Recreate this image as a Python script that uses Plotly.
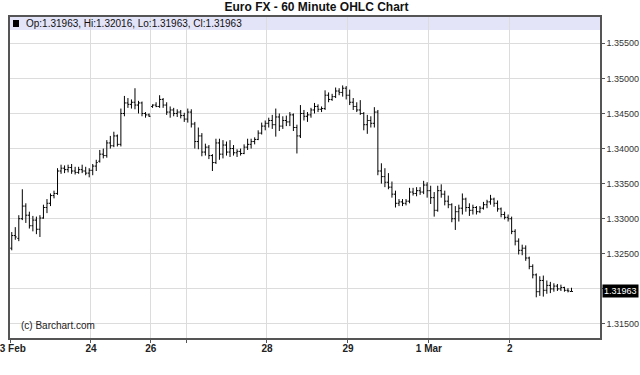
import plotly.graph_objects as go

# ---------------- data ----------------
opens = [
    1.3258, 1.3276, 1.3272, 1.3300, 1.3318, 1.3305, 1.3290, 1.3298, 1.3285, 1.3301,
    1.3316, 1.3322, 1.3333, 1.3336, 1.3368, 1.3372, 1.3370, 1.3373, 1.3368, 1.3366,
    1.3370, 1.3368, 1.3365,
    1.3369, 1.3375, 1.3382, 1.3392, 1.3390, 1.3408, 1.3404, 1.3418, 1.3406, 1.3450,
    1.3465, 1.3463, 1.3466, 1.3462, 1.3465, 1.3450, 1.3448,
    1.3460, 1.3462, 1.3460, 1.3470, 1.3462, 1.3452, 1.3455, 1.3450, 1.3452, 1.3447,
    1.3442, 1.3452, 1.3435, 1.3410, 1.3418, 1.3395, 1.3402, 1.3390, 1.3380, 1.3408,
    1.3392, 1.3405, 1.3395, 1.3400, 1.3394, 1.3396, 1.3393, 1.3402, 1.3406, 1.3410,
    1.3413, 1.3422, 1.3432,
    1.3436, 1.3440, 1.3434, 1.3445, 1.3432, 1.3440, 1.3438, 1.3448, 1.3430, 1.3418,
    1.3450, 1.3446, 1.3448, 1.3455, 1.3460, 1.3456, 1.3457, 1.3476, 1.3470, 1.3474,
    1.3482, 1.3480, 1.3486,
    1.3476, 1.3466, 1.3460, 1.3455, 1.3450, 1.3434, 1.3440, 1.3436, 1.3452, 1.3368,
    1.3360, 1.3352, 1.3345, 1.3335, 1.3322, 1.3324, 1.3322, 1.3325, 1.3338, 1.3336,
    1.3340, 1.3338, 1.3348,
    1.3340, 1.3330, 1.3312, 1.3340, 1.3335, 1.3325, 1.3320, 1.3300, 1.3310, 1.3315,
    1.3328, 1.3316, 1.3312, 1.3316, 1.3310, 1.3315, 1.3320, 1.3324, 1.3328, 1.3322,
    1.3314, 1.3306, 1.3302,
    1.3300, 1.3282, 1.3268, 1.3255, 1.3258, 1.3244, 1.3232, 1.3220, 1.3196, 1.3212,
    1.3198, 1.3205, 1.3200, 1.3204, 1.3200, 1.3202, 1.3198, 1.31963,
]
highs = [
    1.3281, 1.3288, 1.3305, 1.3342, 1.3322, 1.3310, 1.3304, 1.3303, 1.3305, 1.3320,
    1.3328, 1.3336, 1.3340, 1.3372, 1.3377, 1.3376, 1.3377, 1.3378, 1.3374, 1.3374,
    1.3377, 1.3374, 1.3372,
    1.3378, 1.3384, 1.3398, 1.3400, 1.3412, 1.3418, 1.3424, 1.3420, 1.3457, 1.3475,
    1.3472, 1.3470, 1.3486, 1.3468, 1.3467, 1.3452, 1.3450,
    1.3463, 1.3466, 1.3476, 1.3472, 1.3466, 1.3460, 1.3458, 1.3456, 1.3455, 1.3451,
    1.3457, 1.3456, 1.3438, 1.3430, 1.3422, 1.3407, 1.3405, 1.3392, 1.3414, 1.3414,
    1.3412, 1.3410, 1.3412, 1.3405, 1.3399, 1.3400, 1.3406, 1.3414, 1.3414, 1.3416,
    1.3426, 1.3437, 1.3440,
    1.3444, 1.3448, 1.3457, 1.3450, 1.3446, 1.3447, 1.3452, 1.3450, 1.3434, 1.3462,
    1.3455, 1.3452, 1.3458, 1.3465, 1.3463, 1.3460, 1.3483, 1.3480, 1.3478, 1.3487,
    1.3486, 1.3490, 1.3489,
    1.3484, 1.3472, 1.3466, 1.3469, 1.3452, 1.3448, 1.3446, 1.3459, 1.3455, 1.3379,
    1.3372, 1.3365, 1.3353, 1.3340, 1.3328, 1.3328, 1.3328, 1.3344, 1.3344, 1.3345,
    1.3345, 1.3354, 1.3352,
    1.3347, 1.3338, 1.3347, 1.3349, 1.3340, 1.3333, 1.3322, 1.3318, 1.3320, 1.3336,
    1.3330, 1.3322, 1.3320, 1.3318, 1.3318, 1.3324, 1.3327, 1.3334, 1.3330, 1.3326,
    1.3316, 1.3310, 1.3306,
    1.3303, 1.3285, 1.3272, 1.3263, 1.3262, 1.3246, 1.3235, 1.3222, 1.3218, 1.3219,
    1.3212, 1.3210, 1.3208, 1.3207, 1.3206, 1.3203, 1.3201, 1.32016,
]
lows = [
    1.3255, 1.3270, 1.3268, 1.3298, 1.3294, 1.3286, 1.3282, 1.3278, 1.3274, 1.3300,
    1.3308, 1.3318, 1.3329, 1.3334, 1.3364, 1.3365, 1.3366, 1.3364, 1.3363, 1.3364,
    1.3365, 1.3362, 1.3359,
    1.3362, 1.3368, 1.3380, 1.3386, 1.3387, 1.3400, 1.3402, 1.3403, 1.3403, 1.3446,
    1.3458, 1.3457, 1.3456, 1.3450, 1.3446, 1.3444, 1.3445,
    1.3458, 1.3459, 1.3458, 1.3458, 1.3448, 1.3444, 1.3446, 1.3445, 1.3443, 1.3438,
    1.3437, 1.3430, 1.3400, 1.3399, 1.3389, 1.3390, 1.3385, 1.3368, 1.3378, 1.3384,
    1.3386, 1.3390, 1.3388, 1.3390, 1.3388, 1.3390, 1.3392, 1.3398, 1.3400, 1.3406,
    1.3412, 1.3420, 1.3426,
    1.3430, 1.3428, 1.3417, 1.3425, 1.3428, 1.3432, 1.3432, 1.3425, 1.3393, 1.3415,
    1.3440, 1.3438, 1.3444, 1.3450, 1.3452, 1.3452, 1.3455, 1.3466, 1.3468, 1.3472,
    1.3476, 1.3474, 1.3470,
    1.3462, 1.3455, 1.3452, 1.3448, 1.3426, 1.3421, 1.3430, 1.3430, 1.3362, 1.3350,
    1.3345, 1.3342, 1.3330, 1.3316, 1.3318, 1.3318, 1.3319, 1.3322, 1.3333, 1.3332,
    1.3334, 1.3335, 1.3330,
    1.3321, 1.3303, 1.3310, 1.3330, 1.3319, 1.3315, 1.3295, 1.3284, 1.3296, 1.3306,
    1.3310, 1.3304, 1.3306, 1.3306, 1.3308, 1.3313, 1.3315, 1.3320, 1.3317, 1.3310,
    1.3302, 1.3299, 1.3296,
    1.3278, 1.3262, 1.3249, 1.3248, 1.3240, 1.3228, 1.3215, 1.3188, 1.3190, 1.3189,
    1.3193, 1.3194, 1.3196, 1.3197, 1.3197, 1.3196, 1.3195, 1.31963,
]
closes = [
    1.3276, 1.3274, 1.3300, 1.3318, 1.3305, 1.3290, 1.3298, 1.3285, 1.3301, 1.3316,
    1.3322, 1.3333, 1.3336, 1.3368, 1.3372, 1.3370, 1.3373, 1.3368, 1.3366, 1.3370,
    1.3368, 1.3365, 1.3369,
    1.3375, 1.3380, 1.3392, 1.3390, 1.3408, 1.3404, 1.3418, 1.3406, 1.3450, 1.3465,
    1.3463, 1.3466, 1.3462, 1.3465, 1.3450, 1.3448, 1.3446,
    1.3462, 1.3460, 1.3470, 1.3462, 1.3452, 1.3455, 1.3450, 1.3452, 1.3447, 1.3442,
    1.3452, 1.3435, 1.3410, 1.3418, 1.3395, 1.3402, 1.3390, 1.3380, 1.3408, 1.3392,
    1.3405, 1.3395, 1.3400, 1.3394, 1.3396, 1.3393, 1.3402, 1.3406, 1.3410, 1.3413,
    1.3422, 1.3432, 1.3436,
    1.3440, 1.3434, 1.3445, 1.3432, 1.3440, 1.3438, 1.3448, 1.3430, 1.3418, 1.3450,
    1.3446, 1.3448, 1.3455, 1.3460, 1.3456, 1.3457, 1.3476, 1.3470, 1.3474, 1.3482,
    1.3480, 1.3486, 1.3476,
    1.3466, 1.3460, 1.3455, 1.3450, 1.3434, 1.3440, 1.3436, 1.3452, 1.3368, 1.3360,
    1.3352, 1.3345, 1.3335, 1.3322, 1.3324, 1.3322, 1.3325, 1.3338, 1.3336, 1.3340,
    1.3338, 1.3348, 1.3340,
    1.3330, 1.3312, 1.3340, 1.3335, 1.3325, 1.3320, 1.3300, 1.3310, 1.3315, 1.3328,
    1.3316, 1.3312, 1.3316, 1.3310, 1.3315, 1.3320, 1.3324, 1.3328, 1.3322, 1.3314,
    1.3306, 1.3302, 1.3300,
    1.3282, 1.3268, 1.3255, 1.3258, 1.3244, 1.3232, 1.3220, 1.3196, 1.3212, 1.3198,
    1.3205, 1.3200, 1.3204, 1.3200, 1.3202, 1.3198, 1.3197, 1.31963,
]

# first bar index of each session and its label ("" = gridline only)
day_start = [0, 23, 40, 50, 73, 96, 119, 142]
day_labels = ["23 Feb", "24", "26", "", "28", "29", "1 Mar", "2"]

y_ticks = [1.315, 1.320, 1.325, 1.330, 1.335, 1.340, 1.345, 1.350, 1.355]
# 1.32000 label is covered by the last-price box in the original
y_labels = ["1.31500", "", "1.32500", "1.33000", "1.33500", "1.34000",
            "1.34500", "1.35000", "1.35500"]

title_text = "Euro FX - 60 Minute OHLC Chart"
info_text = "Op:1.31963, Hi:1.32016, Lo:1.31963, Cl:1.31963"
credit_text = "(c) Barchart.com"

# ---------------- figure ----------------
x = list(range(len(closes)))
FONT = "Liberation Sans, Arial, sans-serif"

fig = go.Figure(
    go.Ohlc(
        x=x, open=opens, high=highs, low=lows, close=closes,
        increasing=dict(line=dict(color="#000000", width=1)),
        decreasing=dict(line=dict(color="#000000", width=1)),
        tickwidth=0.42,
        hoverinfo="skip",
    )
)

W, H = 640, 375
ml, mr, mt, mb = 10, 40, 17, 37
plot_h = H - mt - mb

fig.update_layout(
    width=W, height=H,
    margin=dict(l=ml, r=mr, t=mt, b=mb, pad=0, autoexpand=False),
    paper_bgcolor="white", plot_bgcolor="white",
    showlegend=False,
    title=dict(text="<b>" + title_text + "</b>", x=0.4945, xref="container",
               xanchor="center", y=1 - 7 / H, yanchor="middle", yref="container",
               font=dict(family=FONT, size=12, color="#111111")),
    font=dict(family=FONT),
)

fig.update_xaxes(
    range=[-0.501, 167.1],
    tickvals=[d - 0.5 for d in day_start],
    ticktext=["<b>" + t + "</b>" if t else "" for t in day_labels],
    tickfont=dict(family=FONT, size=10, color="#222222"),
    ticklabeloverflow="allow",
    ticklabelstandoff=-3,
    showgrid=True, gridcolor="#dcdcdc", gridwidth=1,
    showline=True, linecolor="#555555", linewidth=1.5, mirror=True,
    ticks="outside", ticklen=3, tickcolor="#555555",
    rangeslider=dict(visible=False),
    automargin=False,
    zeroline=False, fixedrange=True,
)

fig.update_yaxes(
    range=[1.3130, 1.35875],
    side="right",
    tickvals=y_ticks,
    ticktext=y_labels,
    tickfont=dict(family=FONT, size=9, color="#333333"),
    ticklabeloverflow="allow",
    showgrid=True, gridcolor="#dcdcdc", gridwidth=1,
    showline=True, linecolor="#555555", linewidth=1.5, mirror=True,
    ticks="outside", ticklen=3, tickcolor="#555555",
    automargin=False,
    zeroline=False, fixedrange=True,
)

band_h = 13
fig.add_shape(type="rect", xref="paper", yref="paper",
              x0=0, x1=1, y0=1 - band_h / plot_h, y1=1,
              fillcolor="#e4e4f8", line=dict(width=0), layer="below")
# small legend square
fig.add_shape(type="rect", xref="paper", yref="paper",
              xsizemode="pixel", ysizemode="pixel",
              xanchor=0, yanchor=1 - 6.5 / plot_h,
              x0=3, x1=9, y0=-3.5, y1=3.5,
              fillcolor="#000000", line=dict(width=0))

fig.add_annotation(text=info_text, xref="paper", yref="paper",
                   x=0, xshift=14, xanchor="left",
                   y=1 - 6.5 / plot_h, yanchor="middle", showarrow=False,
                   font=dict(family=FONT, size=10, color="#111111"))

fig.add_annotation(text=credit_text, xref="paper", yref="paper",
                   x=0, xshift=9, xanchor="left",
                   y=13 / plot_h, yanchor="middle", showarrow=False,
                   font=dict(family=FONT, size=10, color="#222222"))

# last price marker on the right axis
fig.add_annotation(text=f"{closes[-1]:.5f}", xref="paper", yref="y",
                   x=1, xshift=2, xanchor="left", y=closes[-1], yanchor="middle",
                   showarrow=False, bgcolor="#000000", borderpad=1,
                   font=dict(family=FONT, size=9, color="#ffffff"))

fig.write_html("out.html")
